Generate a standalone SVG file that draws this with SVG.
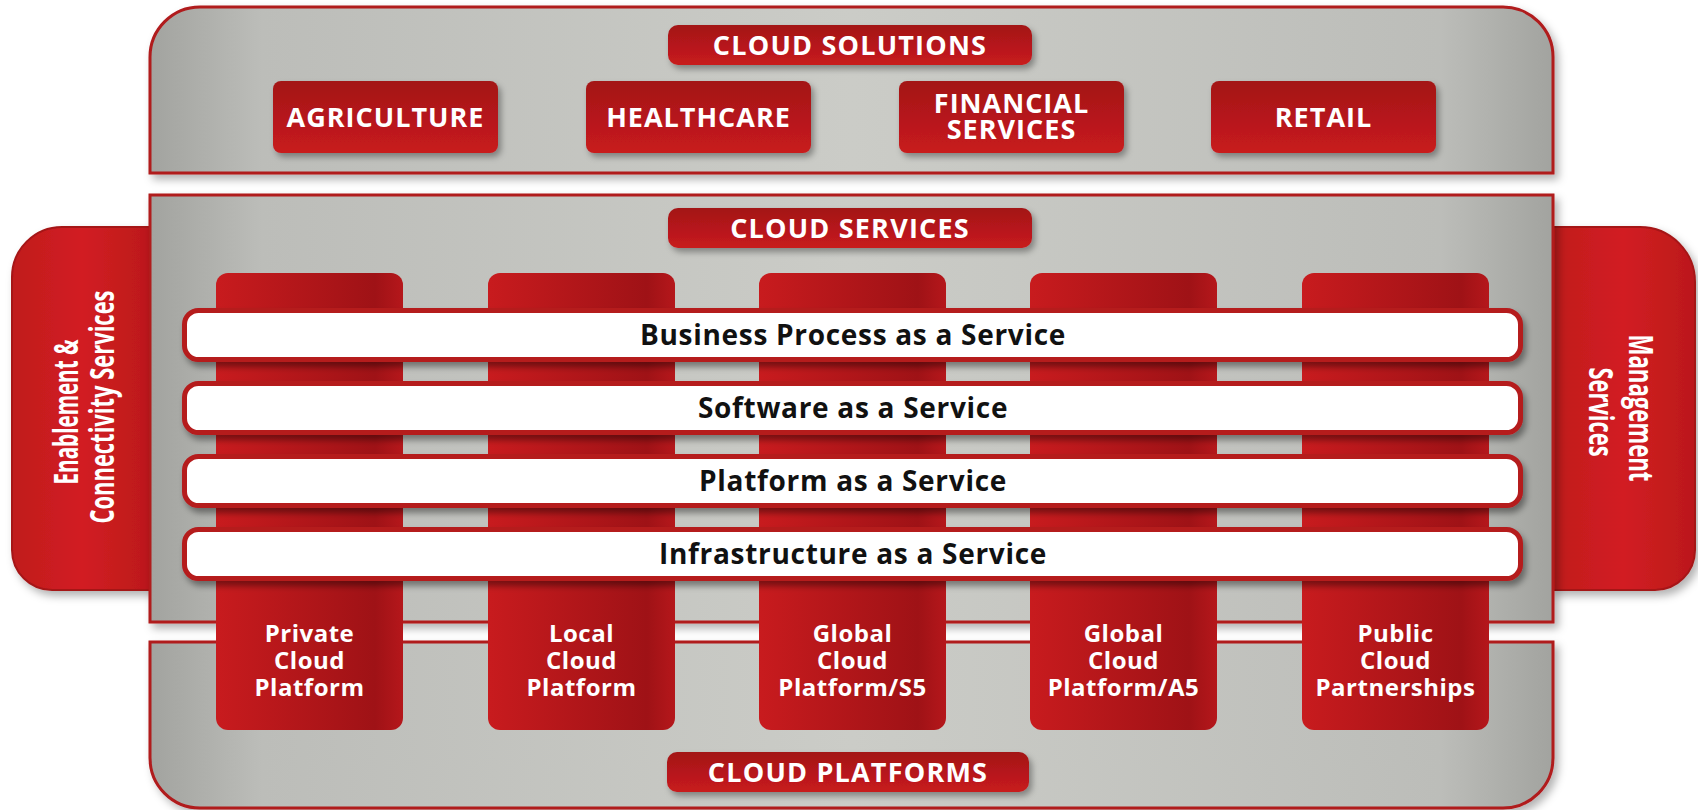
<svg xmlns="http://www.w3.org/2000/svg" width="1698" height="810" viewBox="0 0 1698 810">
<defs>
<style>
.panel{fill:url(#gray);stroke:#b01a1d;stroke-width:3}
.tab{fill:url(#tabR);stroke:#a51619;stroke-width:2}
.btn{fill:url(#btn);filter:url(#shB)}
.col{fill:url(#col)}
.bar{fill:#ffffff;stroke:#b51a1d;stroke-width:5;filter:url(#shBar)}
.bt{font-family:"Open Sans","Noto Sans","Liberation Sans",sans-serif;font-weight:700;fill:#ffffff;text-anchor:middle;font-size:27px;letter-spacing:1px}
.ht{font-family:"Open Sans","Noto Sans","Liberation Sans",sans-serif;font-weight:700;fill:#ffffff;text-anchor:middle;font-size:27px;letter-spacing:1.2px}
.ct{font-family:"Open Sans","Noto Sans","Liberation Sans",sans-serif;font-weight:700;fill:#ffffff;text-anchor:middle;font-size:24px;letter-spacing:0.5px}
.st{font-family:"Open Sans","Noto Sans","Liberation Sans",sans-serif;font-weight:700;fill:#111111;text-anchor:middle;font-size:28px;letter-spacing:0.7px}
.side{font-family:"Open Sans","Noto Sans","Liberation Sans",sans-serif;font-weight:700;fill:#ffffff;text-anchor:middle;font-size:34px}
</style>
<linearGradient id="gray" x1="0" x2="1" y1="0" y2="0">
<stop offset="0" stop-color="#a2a39f"/>
<stop offset="0.08" stop-color="#bcbdb9"/>
<stop offset="0.5" stop-color="#cbccc7"/>
<stop offset="0.92" stop-color="#bcbdb9"/>
<stop offset="1" stop-color="#a2a39f"/>
</linearGradient>
<linearGradient id="btn" x1="0" x2="0" y1="0" y2="1">
<stop offset="0" stop-color="#a31417"/>
<stop offset="1" stop-color="#c81b1e"/>
</linearGradient>
<linearGradient id="col" x1="0" x2="1" y1="0" y2="0">
<stop offset="0" stop-color="#c81b1e"/>
<stop offset="0.85" stop-color="#9f1216"/>
<stop offset="1" stop-color="#b5171b"/>
</linearGradient>
<linearGradient id="tabR" x1="0" x2="1" y1="0" y2="0">
<stop offset="0" stop-color="#c01a1d"/>
<stop offset="0.5" stop-color="#d21f22"/>
<stop offset="1" stop-color="#bb181b"/>
</linearGradient>
<filter id="shP" x="-5%" y="-20%" width="112%" height="150%">
<feDropShadow dx="4" dy="5" stdDeviation="4" flood-color="#000000" flood-opacity="0.3"/>
</filter>
<filter id="shB" x="-10%" y="-20%" width="130%" height="160%">
<feDropShadow dx="3" dy="4" stdDeviation="3" flood-color="#000000" flood-opacity="0.35"/>
</filter>
<filter id="shBar" x="-3%" y="-40%" width="108%" height="200%">
<feDropShadow dx="3" dy="5" stdDeviation="3" flood-color="#000000" flood-opacity="0.4"/>
</filter>
</defs>
<rect width="1698" height="810" fill="#ffffff"/>

<g id="tab-enablement">
<path class="tab" d="M152,227 H62 A50,50 0 0 0 12,277 V550 A40,40 0 0 0 52,590 H152 Z" filter="url(#shP)"/>
<text class="side" x="78" y="412" transform="rotate(-90 78 412)" textLength="145" lengthAdjust="spacingAndGlyphs">Enablement &amp;</text>
<text class="side" x="114" y="407" transform="rotate(-90 114 407)" textLength="233" lengthAdjust="spacingAndGlyphs">Connectivity Services</text>
</g>

<g id="tab-management">
<path class="tab" d="M1551,227 H1640 A55,55 0 0 1 1695,282 V550 A40,40 0 0 1 1655,590 H1551 Z" filter="url(#shP)"/>
<text class="side" x="1629" y="408" transform="rotate(90 1629 408)" textLength="147" lengthAdjust="spacingAndGlyphs">Management</text>
<text class="side" x="1589" y="412" transform="rotate(90 1589 412)" textLength="89" lengthAdjust="spacingAndGlyphs">Services</text>
</g>

<g id="cloud-solutions">
<path class="panel" d="M150,173 V57 A50,50 0 0 1 200,7 H1503 A50,50 0 0 1 1553,57 V173 Z" filter="url(#shP)"/>
<rect class="btn" x="668" y="25" width="364" height="40" rx="10"/>
<text class="ht" x="850" y="55">CLOUD SOLUTIONS</text>
</g>

<g id="agriculture">
<rect class="btn" x="273" y="81" width="225" height="72" rx="8"/>
<text class="bt" x="385.5" y="127">AGRICULTURE</text>
</g>
<g id="healthcare">
<rect class="btn" x="586" y="81" width="225" height="72" rx="8"/>
<text class="bt" x="698.5" y="127">HEALTHCARE</text>
</g>
<g id="financial-services">
<rect class="btn" x="899" y="81" width="225" height="72" rx="8"/>
<text class="bt" x="1011.5" y="113">FINANCIAL</text>
<text class="bt" x="1011.5" y="139">SERVICES</text>
</g>
<g id="retail">
<rect class="btn" x="1211" y="81" width="225" height="72" rx="8"/>
<text class="bt" x="1323.5" y="127">RETAIL</text>
</g>

<g id="cloud-services">
<rect class="panel" x="150" y="195" width="1403" height="427" filter="url(#shP)"/>
<rect class="btn" x="668" y="208" width="364" height="40" rx="10"/>
<text class="ht" x="850" y="238">CLOUD SERVICES</text>
</g>

<g id="cloud-platforms">
<path class="panel" d="M150,642 H1553 V758 A50,50 0 0 1 1503,808 H200 A50,50 0 0 1 150,758 Z" filter="url(#shP)"/>
<rect class="btn" x="667" y="752" width="362" height="40" rx="10"/>
<text class="ht" x="848" y="782">CLOUD PLATFORMS</text>
</g>

<g id="private-cloud-platform">
<rect class="col" x="216" y="273" width="187" height="457" rx="12"/>
<text class="ct" x="309.5" y="642">Private</text>
<text class="ct" x="309.5" y="669">Cloud</text>
<text class="ct" x="309.5" y="696">Platform</text>
</g>
<g id="local-cloud-platform">
<rect class="col" x="488" y="273" width="187" height="457" rx="12"/>
<text class="ct" x="581.5" y="642">Local</text>
<text class="ct" x="581.5" y="669">Cloud</text>
<text class="ct" x="581.5" y="696">Platform</text>
</g>
<g id="global-cloud-platform-s5">
<rect class="col" x="759" y="273" width="187" height="457" rx="12"/>
<text class="ct" x="852.5" y="642">Global</text>
<text class="ct" x="852.5" y="669">Cloud</text>
<text class="ct" x="852.5" y="696">Platform/S5</text>
</g>
<g id="global-cloud-platform-a5">
<rect class="col" x="1030" y="273" width="187" height="457" rx="12"/>
<text class="ct" x="1123.5" y="642">Global</text>
<text class="ct" x="1123.5" y="669">Cloud</text>
<text class="ct" x="1123.5" y="696">Platform/A5</text>
</g>
<g id="public-cloud-partnerships">
<rect class="col" x="1302" y="273" width="187" height="457" rx="12"/>
<text class="ct" x="1395.5" y="642">Public</text>
<text class="ct" x="1395.5" y="669">Cloud</text>
<text class="ct" x="1395.5" y="696">Partnerships</text>
</g>

<g id="bpaas">
<rect class="bar" x="184.5" y="310.5" width="1336" height="49" rx="14"/>
<text class="st" x="853" y="345">Business Process as a Service</text>
</g>
<g id="saas">
<rect class="bar" x="184.5" y="383.5" width="1336" height="49" rx="14"/>
<text class="st" x="853" y="418">Software as a Service</text>
</g>
<g id="paas">
<rect class="bar" x="184.5" y="456.5" width="1336" height="49" rx="14"/>
<text class="st" x="853" y="491">Platform as a Service</text>
</g>
<g id="iaas">
<rect class="bar" x="184.5" y="529.5" width="1336" height="49" rx="14"/>
<text class="st" x="853" y="564">Infrastructure as a Service</text>
</g>

<g id="connectors"></g>
</svg>
